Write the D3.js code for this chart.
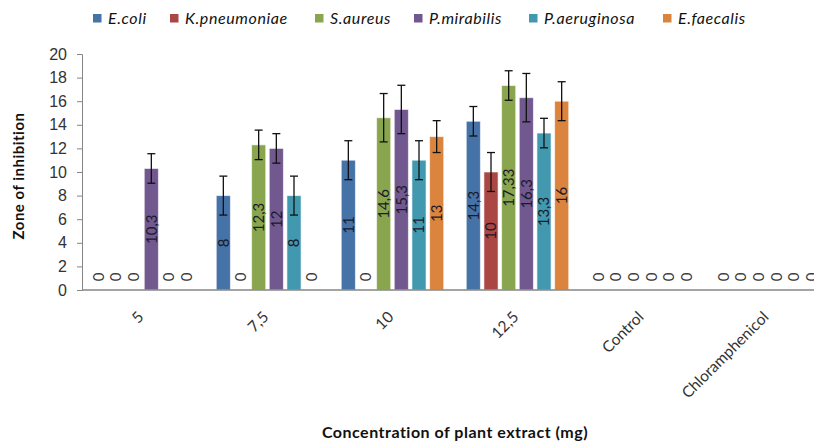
<!DOCTYPE html>
<html>
<head>
<meta charset="utf-8">
<script src="https://cdn.jsdelivr.net/npm/d3@7"></script>
<style>
  body { margin: 0; background: #fff; }
  svg { font-family: Lato, "Open Sans", sans-serif; }
</style>
</head>
<body>
<svg id="chart"></svg>
<script>
// categories and series
var categories = ["5", "7,5", "10", "12,5", "Control", "Chloramphenicol"];
var series = ["E.coli", "K.pneumoniae", "S.aureus", "P.mirabilis", "P.aeruginosa", "E.faecalis"];
var colors = ["#4572A7", "#AA4643", "#89A54E", "#71588F", "#4198AF", "#DB843D"];

// one row per series, one value per category
var ecoli = [0, 8, 11, 14.3, 0, 0];
var kpneu = [0, 0, 0, 10, 0, 0];
var saureus = [0, 12.3, 14.6, 17.33, 0, 0];
var pmir = [10.3, 12, 15.3, 16.3, 0, 0];
var paer = [0, 8, 11, 13.3, 0, 0];
var efaec = [0, 0, 13, 16, 0, 0];

// error bar half-lengths
var ecoliErr = [0, 1.65, 1.65, 1.25, 0, 0];
var kpneuErr = [0, 0, 0, 1.65, 0, 0];
var saureusErr = [0, 1.25, 2.05, 1.25, 0, 0];
var pmirErr = [1.25, 1.25, 2.05, 2.05, 0, 0];
var paerErr = [0, 1.65, 1.65, 1.25, 0, 0];
var efaecErr = [0, 0, 1.35, 1.65, 0, 0];

var yTicks = [0, 2, 4, 6, 8, 10, 12, 14, 16, 18, 20];

var values = [ecoli, kpneu, saureus, pmir, paer, efaec];
var errors = [ecoliErr, kpneuErr, saureusErr, pmirErr, paerErr, efaecErr];

var width = 814, height = 442;
var svg = d3.select("#chart").attr("width", width).attr("height", height);

var x0 = d3.scaleBand().domain(categories).range([80, 830])
  .paddingInner(0.152).paddingOuter(0.076);
var x1 = d3.scaleBand().domain(series).range([0, x0.bandwidth()])
  .paddingInner(0.2).paddingOuter(0.1);
var y = d3.scaleLinear().domain([0, 20]).range([290, 54]);

var fmt = function (v) { return String(v).replace(".", ","); };

// y axis
var yAxis = d3.axisLeft(y).tickValues(yTicks).tickSize(5).tickPadding(10);
var gy = svg.append("g").attr("transform", "translate(82,0)").call(yAxis);
gy.select(".domain").attr("stroke", "#868686");
gy.selectAll(".tick line").attr("stroke", "#868686");
gy.selectAll(".tick text").attr("font-size", 16).attr("fill", "#333");

// flatten into bar records
var bars = [];
series.forEach(function (s, si) {
  categories.forEach(function (c, ci) {
    bars.push({ s: s, si: si, c: c, v: values[si][ci], e: errors[si][ci] });
  });
});

var g = svg.append("g");

g.selectAll("rect.bar")
  .data(bars.filter(function (d) { return d.v > 0; }))
  .enter().append("rect")
  .attr("class", "bar")
  .attr("x", function (d) { return x0(d.c) + x1(d.s); })
  .attr("y", function (d) { return y(d.v); })
  .attr("width", x1.bandwidth())
  .attr("height", function (d) { return y(0) - y(d.v); })
  .attr("fill", function (d) { return colors[d.si]; })
  .attr("stroke", "rgba(255,255,255,0.6)")
  .attr("stroke-width", 1);

// x axis line
svg.append("line")
  .attr("x1", 82).attr("x2", width)
  .attr("y1", y(0)).attr("y2", y(0))
  .attr("stroke", "#868686").attr("stroke-width", 1.3);

// error bars
var eb = g.selectAll("g.err")
  .data(bars.filter(function (d) { return d.e > 0; }))
  .enter().append("g")
  .attr("class", "err")
  .attr("transform", function (d) {
    return "translate(" + (x0(d.c) + x1(d.s) + x1.bandwidth() / 2) + ",0)";
  })
  .attr("stroke", "#111")
  .attr("stroke-width", 1.3);
eb.append("line")
  .attr("y1", function (d) { return y(d.v + d.e); })
  .attr("y2", function (d) { return y(d.v - d.e); });
eb.append("line").attr("x1", -4).attr("x2", 4)
  .attr("y1", function (d) { return y(d.v + d.e); })
  .attr("y2", function (d) { return y(d.v + d.e); });
eb.append("line").attr("x1", -4).attr("x2", 4)
  .attr("y1", function (d) { return y(d.v - d.e); })
  .attr("y2", function (d) { return y(d.v - d.e); });

// data labels, rotated, centred in the bar (zeros sit just above the axis)
g.selectAll("text.lbl")
  .data(bars)
  .enter().append("text")
  .attr("class", "lbl")
  .attr("transform", function (d) {
    var cx = x0(d.c) + x1(d.s) + x1.bandwidth() / 2;
    var cy = d.v > 0 ? y(d.v / 2) : y(0) - 13;
    return "translate(" + cx + "," + cy + ") rotate(-90)";
  })
  .attr("text-anchor", "middle")
  .attr("dy", "0.35em")
  .attr("font-size", 15)
  .attr("fill", function (d) { return d.v > 0 ? "#1a1a2a" : "#3a3a3a"; })
  .text(function (d) { return fmt(d.v); });

// category labels, ending at the group centre
svg.append("g").selectAll("text")
  .data(categories)
  .enter().append("text")
  .attr("transform", function (c) {
    return "translate(" + (x0(c) + x0.bandwidth() / 2 + 2) + ",318) rotate(-45)";
  })
  .attr("text-anchor", "end")
  .attr("font-size", 15.5)
  .attr("fill", "#333")
  .text(function (c) { return c; });

// axis titles
svg.append("text")
  .attr("x", 455).attr("y", 438)
  .attr("text-anchor", "middle")
  .attr("font-size", 16).attr("font-weight", "bold")
  .attr("letter-spacing", 0.5)
  .attr("fill", "#111")
  .text("Concentration of plant extract (mg)");

svg.append("text")
  .attr("transform", "translate(24,176) rotate(-90)")
  .attr("text-anchor", "middle")
  .attr("font-size", 15).attr("font-weight", "bold")
  .attr("letter-spacing", 0.5)
  .attr("fill", "#111")
  .text("Zone of inhibition");

// legend
var legendX = [93, 170, 315, 414, 529, 663];
var lg = svg.append("g").selectAll("g")
  .data(series)
  .enter().append("g")
  .attr("transform", function (s, i) { return "translate(" + legendX[i] + ",14)"; });
lg.append("rect").attr("width", 8.5).attr("height", 8.5)
  .attr("fill", function (s, i) { return colors[i]; });
lg.append("text")
  .attr("x", 15).attr("y", 10)
  .attr("font-size", 16).attr("font-style", "italic")
  .attr("letter-spacing", 0.6)
  .attr("fill", "#111")
  .text(function (s) { return s; });
</script>
</body>
</html>
